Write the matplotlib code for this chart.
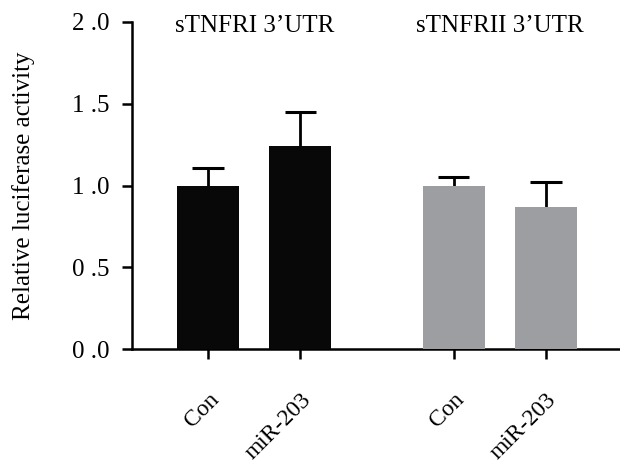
import matplotlib

matplotlib.use("Agg")

import matplotlib.pyplot as plt
import numpy as np

plt.rcParams["font.family"] = ["Liberation Serif", "DejaVu Serif"]

group_titles = ["sTNFRI 3\u2019UTR", "sTNFRII 3\u2019UTR"]
bar_labels = ["Con", "miR-203", "Con", "miR-203"]
bar_values = [1.00, 1.24, 1.00, 0.87]
bar_errors = [0.11, 0.21, 0.05, 0.15]
bar_colors = ["#080808", "#080808", "#9d9ea2", "#9d9ea2"]
y_ticks = [0.0, 0.5, 1.0, 1.5, 2.0]
y_tick_labels = ["0 .0", "0 .5", "1 .0", "1 .5", "2 .0"]

positions = np.array([0.0, 1.0, 2.663, 3.663])
values = np.array(bar_values)
tops = values + np.array(bar_errors)

figure = plt.figure(figsize=(6.2, 4.63), dpi=100)
axis = figure.add_axes([0.2129, 0.2462, 0.7871, 0.7063])

# error bars: only the upper half, stem hidden behind the bar
axis.vlines(positions, values * 0.5, tops, colors="black", linewidth=2, zorder=2)
axis.hlines(tops, positions - 0.17, positions + 0.17, colors="black", linewidth=2.2, zorder=2)
axis.bar(positions, values, width=0.674, color=bar_colors, zorder=3)

axis.set_xlim(-0.826, 4.467)
axis.set_ylim(0, 2.0)
axis.set_yticks(y_ticks)
axis.set_yticklabels(y_tick_labels, fontsize=18)
axis.set_xticks(positions)
axis.set_xticklabels(
    bar_labels, fontsize=17, rotation=45, ha="right", va="top",
    rotation_mode="anchor",
)

for side in ["top", "right"]:
    axis.spines[side].set_visible(False)
for side in ["left", "bottom"]:
    axis.spines[side].set_linewidth(1.8)
axis.tick_params(axis="y", length=7, width=1.8, pad=9)
axis.tick_params(axis="x", length=7, width=1.8, pad=22)

axis.set_ylabel("Relative luciferase activity", fontsize=18, labelpad=27)

for index, title in enumerate(group_titles):
    center = (positions[2 * index] + positions[2 * index + 1]) / 2
    axis.text(center, 1.939, title, ha="center", va="baseline", fontsize=18)

figure.savefig("out.png", dpi=100)
plt.close(figure)
